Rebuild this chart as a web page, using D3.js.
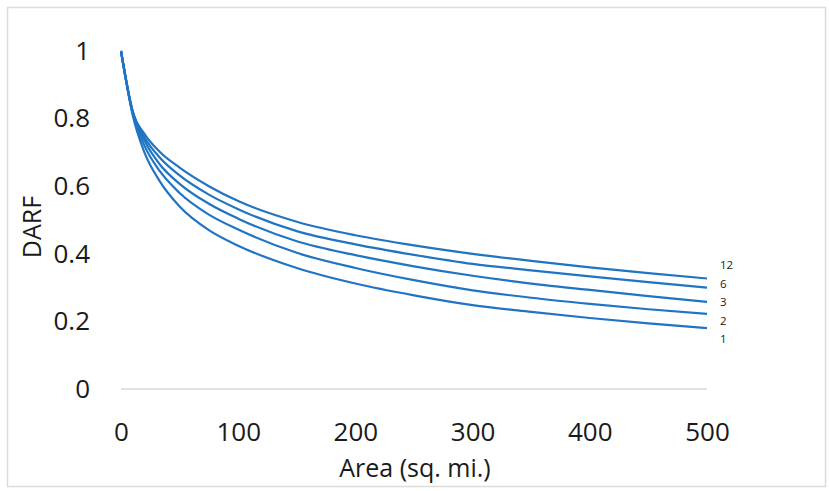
<!DOCTYPE html>
<html>
<head>
<meta charset="utf-8">
<script src="https://cdn.jsdelivr.net/npm/d3@7"></script>
<style>
  html, body { margin: 0; padding: 0; background: #fff; }
  svg { display: block; }
  text { font-family: "Open Sans", "Noto Sans", sans-serif; }
</style>
</head>
<body>
<svg id="chart" width="829" height="491"></svg>
<script>
// Drainage area (sq. mi.) at which DARF values are tabulated
const areas = [0, 10, 20, 33, 50, 75, 100, 150, 200, 250, 300, 350, 400, 450, 500];

// Depth-area reduction factor per storm duration (hours)
const darf12 = [1.0, 0.82, 0.755, 0.702, 0.655, 0.600, 0.556, 0.495, 0.455, 0.425, 0.400, 0.379, 0.360, 0.343, 0.327];
const darf6  = [1.0, 0.82, 0.745, 0.685, 0.632, 0.575, 0.532, 0.467, 0.428, 0.397, 0.370, 0.351, 0.333, 0.316, 0.300];
const darf3  = [1.0, 0.82, 0.735, 0.665, 0.607, 0.548, 0.504, 0.437, 0.396, 0.363, 0.335, 0.312, 0.293, 0.275, 0.258];
const darf2  = [1.0, 0.815, 0.720, 0.645, 0.580, 0.516, 0.472, 0.403, 0.358, 0.322, 0.292, 0.270, 0.252, 0.236, 0.222];
const darf1  = [1.0, 0.81, 0.700, 0.615, 0.540, 0.470, 0.424, 0.358, 0.312, 0.277, 0.248, 0.228, 0.210, 0.194, 0.180];

const durations = ["12", "6", "3", "2", "1"];
const seriesValues = [darf12, darf6, darf3, darf2, darf1];

const xTicks = [0, 100, 200, 300, 400, 500];
const yTicks = [0, 0.2, 0.4, 0.6, 0.8, 1];

const svg = d3.select("#chart");
const FONT = "'Open Sans', 'Noto Sans', sans-serif";
const INK = "#1a1a1a";

// outer frame
svg.append("rect")
  .attr("x", 7.5).attr("y", 7.5)
  .attr("width", 818).attr("height", 479)
  .attr("fill", "#fff")
  .attr("stroke", "#dcdcdc")
  .attr("stroke-width", 1.5);

const x = d3.scaleLinear().domain([0, 500]).range([121, 707]);
const y = d3.scaleLinear().domain([0, 1]).range([389, 51]);

// baseline at zero
svg.append("line")
  .attr("x1", x(0)).attr("x2", x(500))
  .attr("y1", y(0)).attr("y2", y(0))
  .attr("stroke", "#d9d9d9")
  .attr("stroke-width", 1.5);

// y axis tick labels
const yAxis = d3.axisLeft(y)
  .tickValues(yTicks)
  .tickSize(0)
  .tickPadding(0)
  .tickFormat(d3.format("~g"));
const gy = svg.append("g")
  .attr("transform", "translate(90,0)")
  .call(yAxis);
gy.select(".domain").remove();
gy.selectAll("text")
  .attr("font-size", 26)
  .attr("fill", INK)
  .attr("font-family", FONT);

// x axis tick labels
const xAxis = d3.axisBottom(x)
  .tickValues(xTicks)
  .tickSize(0)
  .tickPadding(0)
  .tickFormat(d3.format("d"));
const gx = svg.append("g")
  .attr("transform", "translate(0,423)")
  .call(xAxis);
gx.select(".domain").remove();
gx.selectAll("text")
  .attr("font-size", 26)
  .attr("fill", INK)
  .attr("font-family", FONT);

// axis titles
svg.append("text")
  .attr("x", 415).attr("y", 467)
  .attr("text-anchor", "middle")
  .attr("dominant-baseline", "central")
  .attr("font-size", 25)
  .attr("fill", INK)
  .text("Area (sq. mi.)");

svg.append("text")
  .attr("transform", "translate(31,227) rotate(-90)")
  .attr("text-anchor", "middle")
  .attr("dominant-baseline", "central")
  .attr("font-size", 25)
  .attr("fill", INK)
  .text("DARF");

// curves
const line = d3.line()
  .x((d, i) => x(areas[i]))
  .y(d => y(d))
  .curve(d3.curveMonotoneX);

svg.append("g")
  .selectAll("path")
  .data(seriesValues)
  .join("path")
  .attr("d", d => line(d))
  .attr("fill", "none")
  .attr("stroke", "#1f74c4")
  .attr("stroke-width", 2.2)
  .attr("stroke-linejoin", "round");

// duration labels at the right end, spread evenly around the curve ends
const ends = seriesValues.map(s => y(s[s.length - 1]));
const mid = d3.mean(ends);
const gap = 18.5;
svg.append("g")
  .selectAll("text")
  .data(durations)
  .join("text")
  .attr("x", 720)
  .attr("y", (d, i) => mid + (i - 2) * gap)
  .attr("dominant-baseline", "central")
  .attr("font-size", 11.5)
  .attr("fill", INK)
  .text(d => d);
</script>
</body>
</html>
